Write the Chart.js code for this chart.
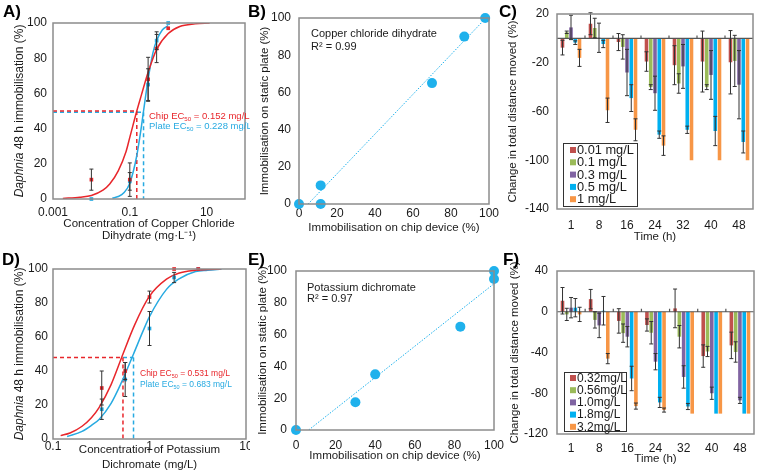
<!DOCTYPE html>
<html><head><meta charset="utf-8">
<script src="https://cdn.jsdelivr.net/npm/chart.js@4.4.1/dist/chart.umd.min.js"></script>
<style>
html,body{margin:0;padding:0;background:#fff}
#wrap{position:relative;width:760px;height:474px;overflow:hidden;background:#fff}
canvas{position:absolute}
.pl{position:absolute;font:bold 17px "Liberation Sans",Arial,sans-serif;color:#000;line-height:1}
</style></head><body><div id="wrap">
<canvas id="cA" width="250" height="244" style="left:0;top:0"></canvas>
<canvas id="cB" width="255" height="244" style="left:250px;top:0"></canvas>
<canvas id="cC" width="255" height="246" style="left:505px;top:0"></canvas>
<canvas id="cD" width="250" height="237" style="left:0;top:237px"></canvas>
<canvas id="cE" width="255" height="237" style="left:250px;top:237px"></canvas>
<canvas id="cF" width="255" height="237" style="left:505px;top:237px"></canvas>
<div class="pl" style="left:3px;top:3px">A)</div>
<div class="pl" style="left:248px;top:3px">B)</div>
<div class="pl" style="left:499px;top:3px">C)</div>
<div class="pl" style="left:2px;top:251px">D)</div>
<div class="pl" style="left:248px;top:251px">E)</div>
<div class="pl" style="left:503px;top:251px">F)</div>
</div>
<script>
// ---------- DATA ----------
// Panel A: copper chloride dihydrate dose-response
const aConc = [0.01, 0.1, 0.3, 0.5, 1];
const aChip = [11, 11, 68, 85.5, 97];
const aChipErr = [6, 9.5, 12.5, 8, 0];
const aPlate = [0, 10, 65, 90, 100];
const aPlateErr = [0, 5, 9, 5, 0];
const aChipFitX = [0.0018, 0.005, 0.01, 0.02, 0.03, 0.05, 0.08, 0.1, 0.152, 0.2, 0.3, 0.5, 1, 2, 5, 12];
const aChipFitY = [0.3, 1, 2, 5, 8.5, 16, 27, 35, 50, 59, 72, 85, 94, 98, 99.5, 100];
const aPlateFitX = [0.035, 0.05, 0.07, 0.1, 0.15, 0.2, 0.228, 0.3, 0.4, 0.5, 0.7, 1.0];
const aPlateFitY = [0.5, 1.4, 3.5, 9, 24, 41, 50, 68, 83, 90, 96, 98.5];
const aEC50 = [0.152, 0.228];           // chip, plate
const aTicks = [0.001, 0.1, 10];

// Panel B: copper correlation
const bChip = [0, 11.4, 11.4, 70, 87, 98];
const bPlate = [0, 10, 0, 65, 90, 100];
const bFitX = [4.8, 98.4];
const bFitY = [0, 100];

// Panel C: copper behaviour
const times = ['1', '8', '16', '24', '32', '40', '48'];
const cLabels = ['0.01 mg/L', '0.1 mg/L', '0.3 mg/L', '0.5 mg/L', '1 mg/L'];
const c001 = [-7.6, 12, -3, -19, -22, -19, -19.6];
const c001Err = [6, 9, 7, 8, 16, 25, 26];
const c01 = [5, 8.5, -7, -40, -37, -40, -18.5];
const c01Err = [1, 8, 10, 2, 8, 2, 21];
const c03 = [9, 0.5, -28, -45, -23, -30, -38];
const c03Err = [10, 12, 19, 14, 18, 20, 28];
const c05 = [-3.5, -4.6, -49, -79, -75, -76, -85];
const c05Err = [1.5, 3, 11, 3, 3, 12, 9];
const c1 = [-16, -59, -75, -88, -100, -100, -100];
const c1Err = [7, 10, 9, 8, 0, 0, 0];
const cTicks = [-140, -100, -60, -20, 20];

// Panel D: potassium dichromate dose-response
const dConc = [0.32, 0.56, 1.0, 1.8, 3.2];
const dChip = [30, 40, 83.5, 100, 100];
const dChipErr = [10, 5, 3.5, 0, 0];
const dPlate = [17.5, 35, 65, 95, 100];
const dPlateErr = [6, 10, 10, 3, 0];
const dChipFitX = [0.12, 0.15, 0.2, 0.25, 0.3, 0.4, 0.531, 0.7, 1, 1.5, 2, 3, 4, 5.5];
const dChipFitY = [2, 3.5, 7.5, 12.5, 18.5, 32, 50, 67, 84, 94, 97.5, 99.3, 99.7, 100];
const dPlateFitX = [0.14, 0.2, 0.25, 0.3, 0.4, 0.5, 0.683, 0.85, 1, 1.5, 2, 3, 4, 5.6];
const dPlateFitY = [1.5, 4.5, 8, 11.5, 21, 32, 50, 63, 72, 88, 94, 98.5, 99.3, 100];
const dEC50 = [0.531, 0.683];
const dTicks = [0.1, 1, 10];

// Panel E: dichromate correlation
const eChip = [0, 30, 40, 83, 100, 100];
const ePlate = [0, 17.5, 35, 65, 95, 100];
const eFitX = [6.4, 100];
const eFitY = [0, 92];

// Panel F: dichromate behaviour
const fLabels = ['0.32mg/L', '0.56mg/L', '1.0mg/L', '1.8mg/L', '3.2mg/L'];
const f032 = [10.8, 12.4, -9, -13, 3.3, -43.5, -33];
const f032Err = [13, 9.5, 12, 6, 19, 11, 13];
const f056 = [-2.6, -8, -21, -20.6, -24.5, -39, -39.5];
const f056Err = [6, 8, 9, 11, 11, 5, 10];
const f10 = [4, -13.4, -24.5, -49, -64, -80, -87];
const f10Err = [10, 12, 10, 8, 11, 6, 3];
const f18 = [4, 1, -65.5, -89, -93, -100, -100];
const f18Err = [9, 14, 12, 5, 3, 0, 0];
const f32 = [-2.6, -46, -92.6, -96.5, -100, -100, -100];
const f32Err = [7, 5, 3, 2, 0, 0, 0];
const fTicks = [-120, -80, -40, 0, 40];
const pctTicks = [0, 20, 40, 60, 80, 100];

// ---------- STYLE ----------
const FAM = '"Liberation Sans", Arial, sans-serif';
Chart.defaults.font.family = FAM;
Chart.defaults.font.size = 12;
Chart.defaults.color = '#1a1a1a';
Chart.defaults.animation = false;
const RED = '#E8262B', BLUE = '#27AAE1', PT = '#1FB1EC';
const BARC = ['#C0504D', '#9BBB59', '#8064A2', '#00B0F0', '#F79646'];

const zip = (xs, ys) => xs.map((x, i) => ({x, y: ys[i]}));

// ---------- PLUGINS ----------
const frame = {id: 'frame', afterDraw(c) {
  const {ctx, chartArea: a} = c; ctx.save();
  ctx.strokeStyle = '#8c8c8c'; ctx.lineWidth = 1.5;
  ctx.strokeRect(a.left, a.top, a.right - a.left, a.bottom - a.top); ctx.restore();
}};
const errBars = {id: 'errBars', afterDatasetsDraw(c) {
  const ctx = c.ctx, ys = c.scales.y;
  c.data.datasets.forEach((ds, i) => {
    if (!ds.errors) return;
    const meta = c.getDatasetMeta(i);
    meta.data.forEach((el, j) => {
      const e = ds.errors[j]; if (!e) return;
      const d = ds.data[j]; const v = (typeof d === 'object') ? d.y : d;
      const x = el.x, y1 = ys.getPixelForValue(v + e), y2 = ys.getPixelForValue(v - e);
      ctx.save(); ctx.strokeStyle = '#333'; ctx.lineWidth = 1;
      ctx.beginPath(); ctx.moveTo(x, y1); ctx.lineTo(x, y2);
      ctx.moveTo(x - 2, y1); ctx.lineTo(x + 2, y1);
      ctx.moveTo(x - 2, y2); ctx.lineTo(x + 2, y2); ctx.stroke(); ctx.restore();
    });
  });
}};
const zeroLine = {id: 'zeroLine', afterDatasetsDraw(c) {
  const {ctx, chartArea: a} = c; const y0 = c.scales.y.getPixelForValue(0);
  const n = c.data.labels.length; ctx.save();
  ctx.strokeStyle = '#555'; ctx.lineWidth = 1.2;
  ctx.beginPath(); ctx.moveTo(a.left, y0); ctx.lineTo(a.right, y0);
  for (let i = 1; i < n; i++) { const x = a.left + i * (a.right - a.left) / n; ctx.moveTo(x, y0); ctx.lineTo(x, y0 - 3); }
  ctx.stroke(); ctx.restore();
}};
function makeNotes(items) { return {id: 'notes', afterDraw(c) {
  const ctx = c.ctx;
  items.forEach(it => {
    ctx.save(); ctx.translate(it.x, it.y); if (it.rot) ctx.rotate(it.rot);
    ctx.fillStyle = it.color || '#1a1a1a'; ctx.textBaseline = 'middle'; ctx.textAlign = 'left';
    const fo = st => (st === 'italic' ? 'italic ' : '') + (st === 'sub' ? it.size * 0.65 : it.size) + 'px ' + FAM;
    let tot = 0; it.parts.forEach(p => { ctx.font = fo(p[1]); tot += ctx.measureText(p[0]).width; });
    let x = it.align === 'center' ? -tot / 2 : 0;
    it.parts.forEach(p => { ctx.font = fo(p[1]); ctx.fillText(p[0], x, p[1] === 'sub' ? it.size * 0.3 : 0); x += ctx.measureText(p[0]).width; });
    ctx.restore();
  });
}}; }
// lines: {x, y, from (optional x value where the horizontal dash starts), color}
function makeEC(lines) { return {id: 'ec', beforeDatasetsDraw(c) {
  const {ctx, chartArea: a} = c; const xs = c.scales.x, ys = c.scales.y;
  lines.forEach(l => {
    const px = xs.getPixelForValue(l.x), py = ys.getPixelForValue(l.y);
    const sx = l.from != null ? xs.getPixelForValue(l.from) : a.left;
    ctx.save(); ctx.strokeStyle = l.color; ctx.lineWidth = 1.5; ctx.setLineDash([4, 3]);
    ctx.beginPath(); ctx.moveTo(sx, py); ctx.lineTo(px, py); ctx.moveTo(px, py); ctx.lineTo(px, a.bottom); ctx.stroke(); ctx.restore();
  });
}}; }
function makeLegend(o) { return {id: 'boxLegend', afterDraw(c) {
  const ctx = c.ctx; ctx.save();
  ctx.fillStyle = '#fff'; ctx.fillRect(o.x, o.y, o.w, o.h);
  ctx.strokeStyle = '#333'; ctx.lineWidth = 1; ctx.strokeRect(o.x + 0.5, o.y + 0.5, o.w, o.h);
  ctx.font = o.size + 'px ' + FAM; ctx.textBaseline = 'middle';
  c.data.datasets.forEach((ds, i) => {
    const cy = o.y + o.first + i * o.row;
    ctx.fillStyle = ds.backgroundColor; ctx.fillRect(o.x + o.sqx, cy - 3, 6, 6);
    ctx.fillStyle = '#1a1a1a'; ctx.fillText(ds.label, o.x + o.tx, cy + 0.5);
  });
  ctx.restore();
}}; }

function axis(o) {
  const ax = {
    type: o.type || 'linear',
    grid: {display: false, drawTicks: false},
    border: {display: false},
    ticks: {padding: o.pad, autoSkip: false, maxRotation: 0, minRotation: 0, font: {size: 12}, color: '#1a1a1a'},
    afterFit: s => { if (o.w != null) s.width = o.w; if (o.h != null) s.height = o.h;
      s.paddingLeft = 0; s.paddingRight = 0; s.paddingTop = 0; s.paddingBottom = 0; },
    title: o.title ? {display: true, text: o.title, font: {size: 11.5, lineHeight: o.lh || 1.2}, color: '#1a1a1a', padding: o.tpad} : {display: false}
  };
  if (o.min != null) ax.min = o.min;
  if (o.max != null) ax.max = o.max;
  if (o.ticks) ax.afterBuildTicks = s => { s.ticks = o.ticks.map(v => ({value: v})); };
  if (o.cb) ax.ticks.callback = o.cb;
  return ax;
}
const baseOpts = (pad, scales, extra) => Object.assign({
  responsive: false, animation: false, layout: {padding: pad},
  plugins: {legend: {display: false}, tooltip: {enabled: false}},
  scales
}, extra || {});

function ptSet(xs, ys, err, color, style, r) {
  return {type: 'scatter', data: zip(xs, ys), errors: err, backgroundColor: color, borderColor: color,
    pointStyle: style, pointRadius: r, borderWidth: 0, showLine: false, clip: false};
}
function curveSet(xs, ys, color, dash) {
  return {type: 'scatter', data: zip(xs, ys), showLine: true, borderColor: color, backgroundColor: color,
    borderWidth: dash ? 1 : 1.5, borderDash: dash || [], pointRadius: 0, cubicInterpolationMode: 'monotone', fill: false};
}

// ---------- A ----------
new Chart(document.getElementById('cA'), {
  type: 'scatter',
  data: {datasets: [
    ptSet(aConc, aChip, aChipErr, RED, 'rect', 2.6),
    ptSet(aConc, aPlate, aPlateErr, BLUE, 'rect', 2.6),
    curveSet(aChipFitX, aChipFitY, RED),
    curveSet(aPlateFitX, aPlateFitY, BLUE)
  ]},
  options: baseOpts({top: 23, right: 5, left: 0, bottom: 0}, {
    x: axis({type: 'logarithmic', min: 0.001, max: 100, ticks: aTicks, cb: v => String(v), pad: 6, h: 45,
      title: ['Concentration of Copper Chloride', 'Dihydrate (mg\u00b7L\u207b\u00b9)'], lh: 1.05, tpad: {top: 0, bottom: 2}}),
    y: axis({min: 0, max: 100, ticks: pctTicks, pad: 6, w: 53})
  }),
  plugins: [makeEC([{x: aEC50[1], y: 49.3, color: BLUE}, {x: aEC50[0], y: 50, color: RED}]), errBars, frame,
    makeNotes([
      {x: 20, y: 111, rot: -Math.PI / 2, align: 'center', size: 12, parts: [['Daphnia', 'italic'], [' 48 h immobilisation (%)', '']]},
      {x: 149, y: 116, size: 9.5, color: RED, parts: [['Chip EC', ''], ['50', 'sub'], [' = ' + aEC50[0] + ' mg/L', '']]},
      {x: 149, y: 126, size: 9.5, color: BLUE, parts: [['Plate EC', ''], ['50', 'sub'], [' = ' + aEC50[1] + ' mg/L', '']]}
    ])]
});

// ---------- B ----------
new Chart(document.getElementById('cB'), {
  type: 'scatter',
  data: {datasets: [
    ptSet(bChip, bPlate, null, PT, 'circle', 5),
    curveSet(bFitX, bFitY, PT, [1.5, 1.5])
  ]},
  options: baseOpts({top: 18, right: 16, left: 0, bottom: 0}, {
    x: axis({min: 0, max: 100, ticks: pctTicks, pad: 2, h: 40, title: 'Immobilisation on chip device (%)', tpad: {top: 0, bottom: 9}}),
    y: axis({min: 0, max: 100, ticks: pctTicks, pad: 8, w: 49, title: 'Immobilisation on static plate (%)', tpad: {top: 8, bottom: 0}})
  }),
  plugins: [frame, makeNotes([
    {x: 61, y: 34, size: 11, parts: [['Copper chloride dihydrate', '']]},
    {x: 61, y: 47, size: 11, parts: [['R\u00b2 = 0.99', '']]}
  ])]
});

// ---------- C ----------
function barSets(labels, vals, errs) {
  return labels.map((l, i) => ({label: l, data: vals[i], errors: errs[i], backgroundColor: BARC[i], borderWidth: 0}));
}
new Chart(document.getElementById('cC'), {
  type: 'bar',
  data: {labels: times, datasets: barSets(cLabels, [c001, c01, c03, c05, c1], [c001Err, c01Err, c03Err, c05Err, c1Err])},
  options: baseOpts({top: 14, right: 7, left: 0, bottom: 0}, {
    x: axis({type: 'category', pad: 9, h: 37, title: 'Time (h)', tpad: {top: 0, bottom: 2}}),
    y: axis({min: -140, max: 20, ticks: cTicks, pad: 8, w: 52, title: 'Change in total distance moved (%)', tpad: {top: 1, bottom: 0}})
  }, {datasets: {bar: {categoryPercentage: 0.76, barPercentage: 0.84}}}),
  plugins: [zeroLine, errBars, frame, makeLegend({x: 58, y: 143, w: 74, h: 63, first: 7, row: 12.3, sqx: 7, tx: 14, size: 12.8})]
});

// ---------- D ----------
new Chart(document.getElementById('cD'), {
  type: 'scatter',
  data: {datasets: [
    ptSet(dConc, dChip, dChipErr, RED, 'rect', 2.6),
    ptSet(dConc, dPlate, dPlateErr, BLUE, 'rect', 2.6),
    curveSet(dChipFitX, dChipFitY, RED),
    curveSet(dPlateFitX, dPlateFitY, BLUE)
  ]},
  options: baseOpts({top: 32, right: 4, left: 0, bottom: 0}, {
    x: axis({type: 'logarithmic', min: 0.1, max: 10, ticks: dTicks, cb: v => String(v), pad: 0, h: 35,
      title: ['Concentration of Potassium', 'Dichromate (mg/L)'], lh: 1.3, tpad: {top: 0, bottom: 1.5}}),
    y: axis({min: 0, max: 100, ticks: pctTicks, pad: 5, w: 53})
  }),
  plugins: [makeEC([{x: dEC50[1], y: 48, from: dEC50[0], color: BLUE}, {x: dEC50[0], y: 48, color: RED}]), errBars, frame,
    makeNotes([
      {x: 20, y: 117, rot: -Math.PI / 2, align: 'center', size: 12, parts: [['Daphnia', 'italic'], [' 48 h immobilisation (%)', '']]},
      {x: 140, y: 137, size: 8.5, color: RED, parts: [['Chip EC', ''], ['50', 'sub'], [' = ' + dEC50[0] + ' mg/L', '']]},
      {x: 140, y: 148, size: 8.5, color: BLUE, parts: [['Plate EC', ''], ['50', 'sub'], [' = ' + dEC50[1] + ' mg/L', '']]}
    ])]
});

// ---------- E ----------
new Chart(document.getElementById('cE'), {
  type: 'scatter',
  data: {datasets: [
    ptSet(eChip, ePlate, null, PT, 'circle', 5),
    curveSet(eFitX, eFitY, PT, [1.5, 1.5])
  ]},
  options: baseOpts({top: 34, right: 11, left: 0, bottom: 0}, {
    x: axis({min: 0, max: 100, ticks: pctTicks, pad: 8, h: 44, title: 'Immobilisation on chip device (%)', tpad: {top: 0, bottom: 11}}),
    y: axis({min: 0, max: 100, ticks: pctTicks, pad: 9, w: 46, title: 'Immobilisation on static plate (%)', tpad: {top: 6, bottom: 0}})
  }),
  plugins: [frame, makeNotes([
    {x: 57, y: 51, size: 11, parts: [['Potassium dichromate', '']]},
    {x: 57, y: 62, size: 11, parts: [['R\u00b2 = 0.97', '']]}
  ])]
});

// ---------- F ----------
new Chart(document.getElementById('cF'), {
  type: 'bar',
  data: {labels: times, datasets: barSets(fLabels, [f032, f056, f10, f18, f32], [f032Err, f056Err, f10Err, f18Err, f32Err])},
  options: baseOpts({top: 34, right: 6, left: 0, bottom: 0}, {
    x: axis({type: 'category', pad: 7, h: 40, title: 'Time (h)', tpad: {top: 0, bottom: 8}}),
    y: axis({min: -120, max: 40, ticks: fTicks, pad: 9, w: 52, title: 'Change in total distance moved (%)', tpad: {top: 3, bottom: 0}})
  }, {datasets: {bar: {categoryPercentage: 0.76, barPercentage: 0.84}}}),
  plugins: [zeroLine, errBars, frame, makeLegend({x: 59, y: 135, w: 62, h: 59, first: 6, row: 12.2, sqx: 6, tx: 13, size: 12})]
});
</script>
</body></html>
